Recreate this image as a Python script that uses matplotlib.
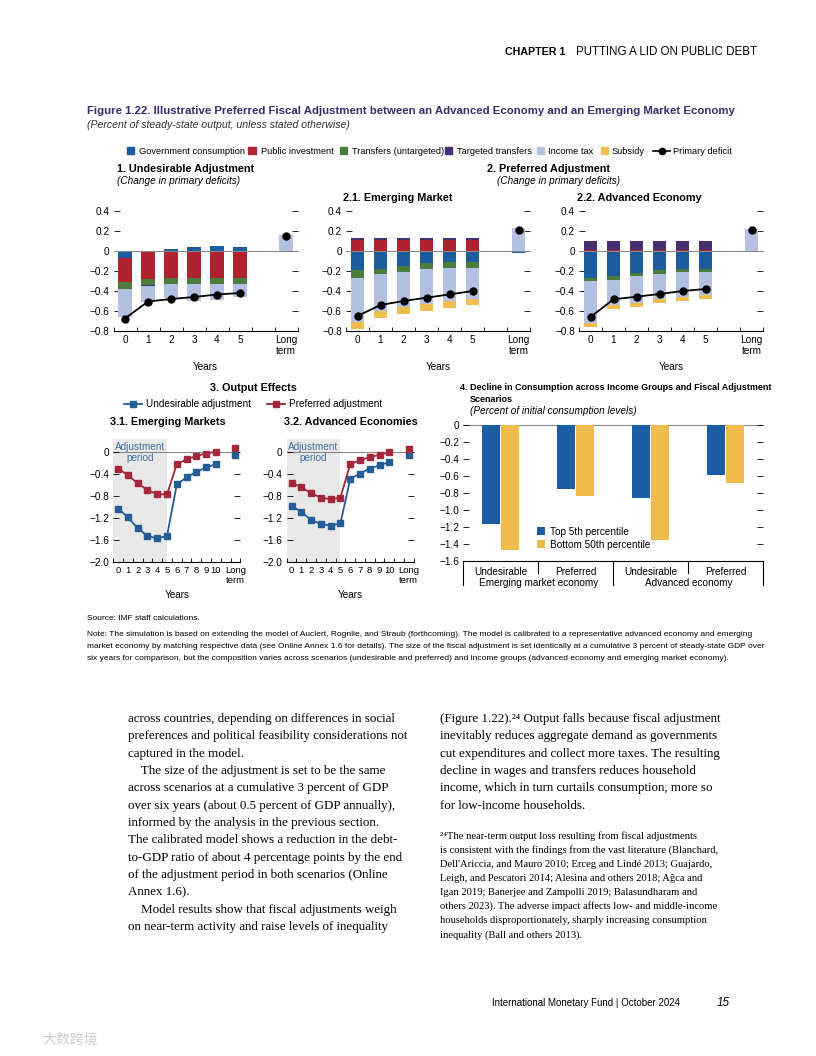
import numpy as np
import matplotlib
matplotlib.use("Agg")
import matplotlib.pyplot as plt
from matplotlib.patches import Rectangle
from matplotlib.lines import Line2D

plt.rcParams['font.family'] = ['Liberation Sans', 'DejaVu Sans']

# ---- data ----
years = ['0', '1', '2', '3', '4', '5', 'Long\nterm']
xpos = [0, 1, 2, 3, 4, 5, 7]

comp_names = ['Government consumption', 'Public investment', 'Transfers (untargeted)',
              'Targeted transfers', 'Income tax', 'Subsidy']

# panel 1: undesirable adjustment
p1_gov = [-0.065, -0.005, 0.017, 0.04, 0.05, 0.04, 0.0]
p1_pub = [-0.245, -0.27, -0.265, -0.265, -0.265, -0.265, 0.0]
p1_trf = [-0.07, -0.065, -0.065, -0.065, -0.065, -0.065, 0.0]
p1_tgt = [0.0, -0.005, 0.0, 0.0, 0.0, 0.0, 0.0]
p1_tax = [-0.28, -0.16, -0.14, -0.17, -0.16, -0.13, 0.16]
p1_sub = [0.0, 0.0, 0.0, 0.0, 0.0, 0.0, 0.0]
p1_def = [-0.675, -0.505, -0.48, -0.46, -0.435, -0.42, 0.15]

# panel 2.1: emerging market
p21_gov = [-0.19, -0.175, -0.152, -0.12, -0.11, -0.11, -0.015]
p21_pub = [0.106, 0.106, 0.106, 0.106, 0.106, 0.106, 0.0]
p21_trf = [-0.075, -0.055, -0.058, -0.06, -0.06, -0.055, 0.0]
p21_tgt = [0.024, 0.024, 0.024, 0.024, 0.024, 0.024, 0.0]
p21_tax = [-0.44, -0.37, -0.346, -0.35, -0.33, -0.31, 0.23]
p21_sub = [-0.075, -0.07, -0.074, -0.07, -0.066, -0.065, 0.0]
p21_def = [-0.65, -0.54, -0.5, -0.467, -0.434, -0.40, 0.21]

# panel 2.2: advanced economy
p22_gov = [-0.265, -0.25, -0.22, -0.19, -0.175, -0.175, -0.01]
p22_pub = [0.012, 0.012, 0.012, 0.012, 0.012, 0.012, 0.0]
p22_trf = [-0.035, -0.035, -0.03, -0.035, -0.035, -0.035, 0.0]
p22_tgt = [0.088, 0.088, 0.088, 0.088, 0.088, 0.088, 0.0]
p22_tax = [-0.415, -0.255, -0.273, -0.258, -0.247, -0.23, 0.22]
p22_sub = [-0.045, -0.04, -0.033, -0.04, -0.043, -0.043, 0.0]
p22_def = [-0.66, -0.483, -0.457, -0.43, -0.40, -0.38, 0.215]

# panel 3: output effects
out_years = ['0', '1', '2', '3', '4', '5', '6', '7', '8', '9', '10', 'Long\nterm']
out_x = [0, 1, 2, 3, 4, 5, 6, 7, 8, 9, 10, 12]
em_undes = [-1.03, -1.19, -1.39, -1.53, -1.575, -1.53, -0.59, -0.46, -0.36, -0.28, -0.22, -0.06]
em_pref = [-0.30, -0.42, -0.57, -0.69, -0.77, -0.77, -0.22, -0.13, -0.07, -0.025, 0.005, 0.07]
ae_undes = [-0.985, -1.09, -1.24, -1.31, -1.34, -1.30, -0.49, -0.39, -0.30, -0.24, -0.18, -0.05]
ae_pref = [-0.56, -0.64, -0.75, -0.83, -0.86, -0.83, -0.22, -0.146, -0.09, -0.05, -0.006, 0.05]

# panel 4: consumption decline
cons_cats = ['Undesirable', 'Preferred', 'Undesirable', 'Preferred']
cons_groups = ['Emerging market economy', 'Advanced economy']
top5 = [-1.17, -0.75, -0.86, -0.59]
bottom50 = [-1.47, -0.84, -1.35, -0.68]

# ---- styles ----
comp_colors = ['#1b5c9e', '#b0222f', '#4c7c3c', '#4a2d6e', '#b4c0e2', '#efbd50']
blue3 = '#245d96'
red3 = '#a3283a'
title_col = '#3b2a6e'
TS = 7.2

W, H = 816, 1056
fig = plt.figure(figsize=(W / 100, H / 100), dpi=100)
renderer = fig.canvas.get_renderer()


def ax_px(l, t, r, b):
    return fig.add_axes([l / W, 1 - b / H, (r - l) / W, (b - t) / H])


def ftxt(x, y, s, **kw):
    kw.setdefault('va', 'center')
    return fig.text(x / W, 1 - y / H, s, **kw)


def fit(texts, maxw):
    # shrink a group of texts to one common size so none is wider than maxw
    if not isinstance(maxw, (list, tuple)):
        maxw = [maxw] * len(texts)
    sc = 1.0
    for t, m in zip(texts, maxw):
        w = t.get_window_extent(renderer).width
        sc = min(sc, m / w)
    for t in texts:
        t.set_fontsize(t.get_fontsize() * sc)


def fmt(v, nd):
    if abs(v) < 1e-9:
        return '0'
    return ('{:.%df}' % nd).format(v).replace('-', '\u2212')


def base_style(ax, yt, nd):
    for s in ['top', 'left', 'right']:
        ax.spines[s].set_visible(False)
    ax.spines['bottom'].set_linewidth(0.8)
    ax.set_yticks(yt)
    ax.set_yticklabels([fmt(v, nd) for v in yt])
    ax.tick_params(axis='y', left=True, right=True, direction='in', length=4,
                   width=0.6, labelsize=TS, pad=3)
    ax.tick_params(axis='x', which='major', length=0, labelsize=TS, pad=3)
    ax.tick_params(axis='x', which='minor', direction='in', length=3, width=0.6)
    ax.set_facecolor('none')


def stacked(ax, comps, deficit):
    pos = np.zeros(len(xpos))
    neg = np.zeros(len(xpos))
    for vals, c in zip(comps, comp_colors):
        vals = np.array(vals)
        base = np.where(vals >= 0, pos, neg)
        ax.bar(xpos, vals, bottom=base, width=0.58, color=c, zorder=2)
        pos += np.clip(vals, 0, None)
        neg += np.clip(vals, None, 0)
    ax.axhline(0, color='#888888', lw=0.8, zorder=3)
    ax.plot(xpos[:6], deficit[:6], color='black', lw=1.3, marker='o', ms=5, zorder=4)
    ax.plot(xpos[6:], deficit[6:], color='black', lw=0, marker='o', ms=5, zorder=4)
    ax.set_xlim(-0.5, 7.5)
    ax.set_ylim(-0.8, 0.42)
    yt = [0.4, 0.2, 0, -0.2, -0.4, -0.6, -0.8]
    base_style(ax, yt, 1)
    ax.set_xticks(xpos)
    ax.set_xticklabels(years, linespacing=1.1, va='top')
    ax.set_xticks(np.arange(-0.5, 8, 1), minor=True)
    ax.set_xlabel('Years', fontsize=TS, labelpad=4)


# header
t_ch = ftxt(505, 52, 'CHAPTER 1', fontsize=8.5, fontweight='bold')
t_hd = ftxt(757, 52, 'PUTTING A LID ON PUBLIC DEBT', fontsize=8.5, ha='right')
fit([t_ch], 60)
fit([t_hd], 180)

# figure title
t_title = ftxt(87, 111, 'Figure 1.22. Illustrative Preferred Fiscal Adjustment between an Advanced Economy and an Emerging Market Economy',
               fontsize=9.5, fontweight='bold', color=title_col)
fit([t_title], 645)
ftxt(87, 125, '(Percent of steady-state output, unless stated otherwise)', fontsize=7.6, style='italic', color='#333333')

# main legend (squares placed as in the page)
sq_x = [130, 252, 343, 449, 540, 604]
lab_x = [139, 261, 352, 457, 548, 612]
slot_end = [247, 338, 444, 535, 599, 649]
leg_texts = []
for c, sx, lx, name in zip(comp_colors, sq_x, lab_x, comp_names):
    fig.add_artist(Rectangle(((sx - 3.5) / W, 1 - (151 + 3.5) / H), 7 / W, 7 / H,
                             transform=fig.transFigure, color=c))
    leg_texts.append(ftxt(lx, 151, name, fontsize=7.5))
fig.add_artist(Line2D([653 / W, 670 / W], [1 - 151 / H] * 2, transform=fig.transFigure,
                      color='black', lw=1.2))
fig.add_artist(Line2D([661.5 / W], [1 - 151 / H], transform=fig.transFigure,
                      color='black', marker='o', ms=4.5, lw=0))
leg_texts.append(ftxt(673, 151, 'Primary deficit', fontsize=7.5))
fit(leg_texts, [e - l for e, l in zip(slot_end + [776], lab_x + [673])])

# panel titles
ftxt(117, 169, '1. Undesirable Adjustment', fontsize=7.8, fontweight='bold')
ftxt(117, 181, '(Change in primary deficits)', fontsize=TS, style='italic')
ftxt(487, 169, '2. Preferred Adjustment', fontsize=7.8, fontweight='bold')
ftxt(497, 181, '(Change in primary deficits)', fontsize=TS, style='italic')
ftxt(343, 198, '2.1. Emerging Market', fontsize=7.8, fontweight='bold')
ftxt(577, 198, '2.2. Advanced Economy', fontsize=7.8, fontweight='bold')

ax1 = ax_px(113.5, 209, 297.5, 331)
stacked(ax1, [p1_gov, p1_pub, p1_trf, p1_tgt, p1_tax, p1_sub], p1_def)
ax21 = ax_px(346, 209, 530, 331)
stacked(ax21, [p21_gov, p21_pub, p21_trf, p21_tgt, p21_tax, p21_sub], p21_def)
ax22 = ax_px(579, 209, 763, 331)
stacked(ax22, [p22_gov, p22_pub, p22_trf, p22_tgt, p22_tax, p22_sub], p22_def)

# panel 3
ftxt(253, 388, '3. Output Effects', fontsize=7.8, fontweight='bold', ha='center')
h3 = [Line2D([], [], color=blue3, marker='s', ms=4, lw=1.3),
      Line2D([], [], color=red3, marker='s', ms=4, lw=1.3)]
fig.legend(h3, ['Undesirable adjustment', 'Preferred adjustment'], loc='center',
           bbox_to_anchor=(253 / W, 1 - 404 / H), ncol=2, frameon=False, fontsize=TS,
           handlelength=1.8, handletextpad=0.4, columnspacing=1.6)
ftxt(110, 422, '3.1. Emerging Markets', fontsize=7.8, fontweight='bold')
ftxt(284, 422, '3.2. Advanced Economies', fontsize=7.8, fontweight='bold')


def output_panel(ax, undes, pref):
    ax.axvspan(-0.5, 5, color='#e8e8e8', zorder=0, lw=0)
    ax.axhline(0, color='#888888', lw=0.8, zorder=1)
    ax.plot(out_x[:11], undes[:11], color=blue3, lw=1.3, marker='s', ms=3.8, zorder=3)
    ax.plot(out_x[11:], undes[11:], color=blue3, lw=0, marker='s', ms=3.8, zorder=3)
    ax.plot(out_x[:11], pref[:11], color=red3, lw=1.3, marker='s', ms=3.8, zorder=3)
    ax.plot(out_x[11:], pref[11:], color=red3, lw=0, marker='s', ms=3.8, zorder=3)
    ax.set_xlim(-0.5, 12.5)
    ax.set_ylim(-2.0, 0.24)
    base_style(ax, [0, -0.4, -0.8, -1.2, -1.6, -2.0], 1)
    ax.set_xticks(out_x)
    ax.set_xticklabels(out_years, linespacing=1.1, va='top', fontsize=6.8)
    ax.set_xticks(np.arange(-0.5, 13, 1), minor=True)
    ax.set_xlabel('Years', fontsize=TS, labelpad=4)
    ax.text(2.2, 0.0, 'Adjustment\nperiod', color='#3f6fa5', fontsize=TS, ha='center', va='center',
            linespacing=1.1, zorder=2)


ax31 = ax_px(113.3, 439, 240.3, 561.7)
output_panel(ax31, em_undes, em_pref)
ax32 = ax_px(286.7, 439, 413.7, 561.7)
output_panel(ax32, ae_undes, ae_pref)

# panel 4
t4a = ftxt(460, 388, '4. Decline in Consumption across Income Groups and Fiscal Adjustment', fontsize=7.8, fontweight='bold')
t4b = ftxt(470, 400, 'Scenarios', fontsize=7.8, fontweight='bold')
fit([t4a, t4b], 312)
ftxt(470, 411, '(Percent of initial consumption levels)', fontsize=TS, style='italic')

ax4 = ax_px(463.3, 423, 763.3, 561)
cx = np.arange(len(cons_cats))
ax4.bar(cx - 0.125, top5, width=0.24, color='#1b5ca3', label='Top 5th percentile', zorder=2)
ax4.bar(cx + 0.125, bottom50, width=0.24, color='#efbb4e', label='Bottom 50th percentile', zorder=2)
ax4.axhline(0, color='#888888', lw=0.8, zorder=1)
ax4.set_xlim(-0.5, 3.5)
ax4.set_ylim(-1.6, 0.02)
base_style(ax4, [0, -0.2, -0.4, -0.6, -0.8, -1.0, -1.2, -1.4, -1.6], 1)
ax4.set_xticks(cx)
ax4.set_xticklabels(cons_cats)
ax4.tick_params(axis='x', which='major', pad=4)
trans = ax4.get_xaxis_transform()
for xb, long_line in zip([-0.5, 0.5, 1.5, 2.5, 3.5], [True, False, True, False, True]):
    ax4.plot([xb, xb], [0, -0.175 if long_line else -0.087], transform=trans, color='black',
             lw=0.8, clip_on=False)
for gx, g in zip([0.5, 2.5], cons_groups):
    ax4.text(gx, -0.16, g, transform=trans, ha='center', va='center', fontsize=TS)
ax4.legend(loc='upper left', bbox_to_anchor=(0.215, 0.315), frameon=False, fontsize=TS,
           handlelength=0.8, handleheight=0.8, handletextpad=0.5, labelspacing=0.3)

# source and note
note = ['Note: The simulation is based on extending the model of Auclert, Rognlie, and Straub (forthcoming). The model is calibrated to a representative advanced economy and emerging',
        'market economy by matching respective data (see Online Annex 1.6 for details). The size of the fiscal adjustment is set identically at a cumulative 3 percent of steady-state GDP over',
        'six years for comparison, but the composition varies across scenarios (undesirable and preferred) and income groups (advanced economy and emerging market economy).']
note_texts = [ftxt(87, 619, 'Source: IMF staff calculations.', fontsize=7)]
for i, line in enumerate(note):
    note_texts.append(ftxt(87, 635 + i * 11.5, line, fontsize=7))
fit(note_texts, 678)

# body text
serif = ['Liberation Serif', 'DejaVu Serif']
left_col = ['across countries, depending on differences in social',
            'preferences and political feasibility considerations not',
            'captured in the model.',
            '    The size of the adjustment is set to be the same',
            'across scenarios at a cumulative 3 percent of GDP',
            'over six years (about 0.5 percent of GDP annually),',
            'informed by the analysis in the previous section.',
            'The calibrated model shows a reduction in the debt-',
            'to-GDP ratio of about 4 percentage points by the end',
            'of the adjustment period in both scenarios (Online',
            'Annex 1.6).',
            '    Model results show that fiscal adjustments weigh',
            'on near-term activity and raise levels of inequality']
for i, line in enumerate(left_col):
    ftxt(128, 719 + i * 17.35, line, fontsize=9.4, family=serif)

right_col = ['(Figure 1.22).\u00b2\u2074 Output falls because fiscal adjustment',
             'inevitably reduces aggregate demand as governments',
             'cut expenditures and collect more taxes. The resulting',
             'decline in wages and transfers reduces household',
             'income, which in turn curtails consumption, more so',
             'for low-income households.']
for i, line in enumerate(right_col):
    ftxt(440, 719 + i * 17.35, line, fontsize=9.4, family=serif)

foot = ['\u00b2\u2074The near-term output loss resulting from fiscal adjustments',
        'is consistent with the findings from the vast literature (Blanchard,',
        "Dell'Ariccia, and Mauro 2010; Erceg and Lind\u00e9 2013; Guajardo,",
        'Leigh, and Pescatori 2014; Alesina and others 2018; A\u011fca and',
        'Igan 2019; Banerjee and Zampolli 2019; Balasundharam and',
        'others 2023). The adverse impact affects low- and middle-income',
        'households disproportionately, sharply increasing consumption',
        'inequality (Ball and others 2013).']
for i, line in enumerate(foot):
    ftxt(440, 836 + i * 14.1, line, fontsize=7.6, family=serif)

# footer
t_ft = ftxt(680, 1003, 'International Monetary Fund | October 2024', fontsize=8.5, ha='right')
fit([t_ft], 188)
ftxt(717, 1003, '15', fontsize=8.5, style='italic')
ftxt(42, 1040, '\u5927\u6570\u8de8\u5883', fontsize=10, color='#cccccc',
     family=['Noto Sans CJK SC', 'DejaVu Sans'])

fig.savefig('out.png', dpi=100)
